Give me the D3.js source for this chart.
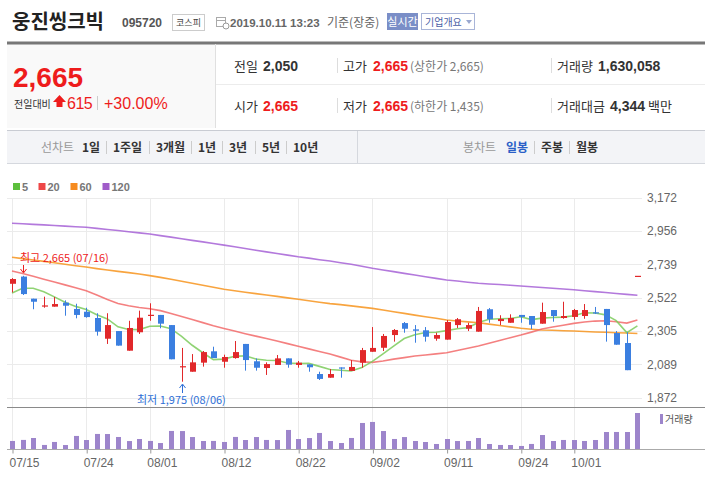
<!DOCTYPE html>
<html><head><meta charset="utf-8">
<script src="https://cdn.jsdelivr.net/npm/d3@7"></script>
<style>
html,body{margin:0;padding:0;background:#fff;}
svg{display:block;font-family:"Liberation Sans",Arial,"Noto Sans CJK KR",sans-serif;}
</style></head><body>
<script>
// ---------- data ----------
const dates = ["07/15","07/16","07/17","07/18","07/19","07/22","07/23","07/24","07/25","07/26","07/29","07/30","07/31",
"08/01","08/02","08/05","08/06","08/07","08/08","08/09","08/12","08/13","08/14","08/16","08/19","08/20","08/21","08/22","08/23","08/26","08/27","08/28","08/29","08/30",
"09/02","09/03","09/04","09/05","09/06","09/09","09/10","09/11","09/16","09/17","09/18","09/19","09/20","09/23","09/24","09/25","09/26","09/27","09/30",
"10/01","10/02","10/04","10/07","10/08","10/10","10/11"];
const tickDates = ["07/15","07/24","08/01","08/12","08/22","09/02","09/11","09/24","10/01"];
const opens  = [2613,2660,2516,2468,2464,2490,2449,2431,2390,2255,2305,2177,2297,2407,2410,2344,2072,2040,2099,2173,2105,2129,2221,2108,2064,2084,2127,2084,2088,2025,2001,2068,2045,2099,2170,2196,2279,2357,2316,2310,2255,2249,2344,2320,2301,2447,2370,2359,2410,2403,2353,2442,2390,2397,2403,2427,2449,2292,2227,2665];
const closes = [2644,2546,2496,2472,2481,2470,2410,2396,2301,2344,2210,2325,2392,2411,2353,2121,2076,2101,2168,2129,2136,2168,2116,2066,2090,2127,2086,2099,2069,1993,2025,2064,2071,2181,2195,2273,2312,2320,2307,2268,2279,2364,2382,2344,2436,2382,2384,2390,2397,2346,2429,2403,2403,2442,2442,2421,2344,2216,2050,2665];
const highs  = [2650,2665,2516,2529,2527,2505,2483,2457,2421,2421,2305,2372,2438,2486,2410,2344,2195,2155,2175,2203,2151,2240,2221,2127,2101,2149,2127,2110,2088,2040,2058,2068,2116,2195,2331,2286,2318,2364,2344,2331,2294,2377,2390,2359,2462,2455,2408,2414,2410,2403,2490,2442,2496,2449,2481,2462,2449,2305,2297,2665];
const lows   = [2557,2540,2447,2457,2464,2405,2388,2392,2275,2221,2210,2177,2286,2372,2323,2121,1975,2040,2073,2129,2066,2125,2047,2047,2019,2084,2066,2066,2040,1986,2001,2001,2045,2066,2170,2175,2236,2294,2229,2236,2242,2249,2325,2305,2301,2359,2344,2359,2359,2318,2353,2366,2385,2379,2385,2416,2236,2216,2050,2665];
const volumes = [364210,411530,497880,183420,318760,179950,591300,406820,681450,677930,544120,359870,452610,364980,270440,817260,812930,541770,361340,365020,318250,546390,407110,541880,409760,405290,862140,451970,496350,726480,361220,270880,499410,1178340,1224670,813550,454080,540960,362710,316470,227350,452380,360840,363290,497520,226140,182630,180910,137420,228570,633890,361760,409330,406540,363050,407820,768910,771240,769580,1630058];
// closes of the 4 sessions before 07/15 (estimated from the 5-day line)
const priorCloses = [2391,2496,2587,2647];
const ma20 = [2696,2680,2662,2643,2625,2606,2587,2568,2540,2510,2485,2470,2458,2450,2438,2420,2400,2380,2360,2340,2322,2305,2288,2272,2257,2240,2223,2206,2189,2172,2155,2135,2115,2104,2101,2110,2122,2132,2142,2149,2156,2164,2178,2193,2208,2226,2244,2262,2279,2298,2318,2331,2343,2355,2364,2370,2372,2366,2357,2377];
const ma60 = [2786,2777,2768,2759,2750,2740,2731,2722,2712,2703,2694,2686,2677,2666,2655,2642,2629,2616,2603,2590,2577,2568,2558,2549,2540,2531,2521,2512,2502,2493,2484,2477,2469,2461,2453,2442,2431,2420,2409,2398,2388,2377,2371,2365,2359,2350,2341,2332,2323,2317,2312,2310,2307,2305,2302,2299,2297,2294,2292,2289];
const ma120 = [3007,3004,3000,2997,2993,2989,2985,2981,2974,2967,2960,2952,2945,2937,2927,2917,2906,2896,2886,2875,2865,2854,2843,2832,2821,2810,2800,2789,2780,2770,2761,2750,2740,2727,2714,2703,2692,2681,2670,2659,2648,2638,2631,2623,2616,2612,2608,2603,2599,2594,2589,2584,2579,2574,2568,2562,2556,2550,2544,2538];
const yTicks = [1872,2089,2305,2522,2739,2956,3172];
const legendItems = [{label:"5",color:"#5cbf3c"},{label:"20",color:"#ee4646"},{label:"60",color:"#f68b1f"},{label:"120",color:"#a05cc9"}];
const lineTabs = ["1일","1주일","3개월","1년","3년","5년","10년"];
const candleTabs = ["일봉","주봉","월봉"];

// ---------- setup ----------
const W=705,H=478;
const svg=d3.select("body").append("svg").attr("width",W).attr("height",H);
const KR='"Noto Sans CJK KR","Liberation Sans",sans-serif';
function t(x,y,s,o={}){
  const e=svg.append("text").attr("x",x).attr("y",y).text(s)
    .attr("font-size",o.size||12).attr("fill",o.fill||"#333");
  if(o.weight)e.attr("font-weight",o.weight);
  if(o.kr)e.attr("font-family",KR);
  if(o.anchor)e.attr("text-anchor",o.anchor);
  if(o.ls)e.attr("letter-spacing",o.ls);
  return e;
}
function line(x1,y1,x2,y2,c,w=1){svg.append("line").attr("x1",x1).attr("y1",y1).attr("x2",x2).attr("y2",y2).attr("stroke",c).attr("stroke-width",w);}

// ---------- header ----------
t(12,29,"웅진씽크빅",{size:20,weight:"bold",kr:true,fill:"#222"});
t(122,27,"095720",{size:12,weight:"bold",fill:"#555"});
svg.append("rect").attr("x",172.5).attr("y",14.5).attr("width",32).attr("height",16).attr("fill","#fff").attr("stroke","#ccc");
t(188.5,26,"코스피",{size:9,kr:true,anchor:"middle",fill:"#444"});
// calendar icon
svg.append("rect").attr("x",216.5).attr("y",17.5).attr("width",9).attr("height",9).attr("fill","none").attr("stroke","#aaa");
line(216.5,20.5,225.5,20.5,"#aaa");
svg.append("circle").attr("cx",226).attr("cy",26).attr("r",3).attr("fill","#fff").attr("stroke","#999");
t(230,27,"2019.10.11 13:23",{size:11.5,weight:"bold",fill:"#666"});
t(327,27,"기준(장중)",{size:12,kr:true,fill:"#666"});
svg.append("rect").attr("x",387).attr("y",13).attr("width",31).attr("height",17).attr("fill","#7a8ec7");
t(402.5,26,"실시간",{size:11,kr:true,anchor:"middle",fill:"#fff"});
svg.append("rect").attr("x",421.5).attr("y",13.5).attr("width",53).attr("height",16).attr("fill","#fff").attr("stroke","#a9b5d8");
t(425,26,"기업개요",{size:10,kr:true,fill:"#4b5ea6"});
svg.append("path").attr("d","M466,20 L472,20 L469,24 Z").attr("fill","#9aa8cf");

// ---------- info box ----------
svg.append("rect").attr("x",7).attr("y",44).attr("width",209).attr("height",84).attr("fill","#f9f9f9");
line(7,43,705,43,"#777",3);
line(215.5,44,215.5,128,"#e0e0e0");
line(216,84.5,705,84.5,"#ececec");
t(13,87,"2,665",{size:28,weight:"bold",fill:"#ee1c1c"});
t(14,108,"전일대비",{size:10,kr:true,fill:"#333"});
svg.append("path").attr("d","M53,102 L59.5,95 L66,102 L62.5,102 L62.5,107 L56.5,107 L56.5,102 Z").attr("fill","#ee1c1c");
t(67,109,"615",{size:16,fill:"#ee1c1c",ls:-0.5});
line(97.5,96,97.5,110,"#ccc");
t(104,109,"+30.00%",{size:16,fill:"#ee1c1c"});
const rowY=[71,111];
t(234,rowY[0],"전일",{size:13,kr:true,fill:"#333"});
t(263,rowY[0],"2,050",{size:14,weight:"bold",fill:"#333"});
t(234,rowY[1],"시가",{size:13,kr:true,fill:"#333"});
t(263,rowY[1],"2,665",{size:14,weight:"bold",fill:"#ee1c1c"});
line(337.5,58,337.5,73,"#ddd");line(337.5,98,337.5,113,"#ddd");
t(343,rowY[0],"고가",{size:13,kr:true,fill:"#333"});
t(373,rowY[0],"2,665",{size:14,weight:"bold",fill:"#ee1c1c"});
t(410,rowY[0],"(상한가 2,665)",{size:12,kr:true,fill:"#777"});
t(343,rowY[1],"저가",{size:13,kr:true,fill:"#333"});
t(373,rowY[1],"2,665",{size:14,weight:"bold",fill:"#ee1c1c"});
t(410,rowY[1],"(하한가 1,435)",{size:12,kr:true,fill:"#777"});
line(551.5,58,551.5,73,"#ddd");line(551.5,98,551.5,113,"#ddd");
t(557,rowY[0],"거래량",{size:13,kr:true,fill:"#333"});
t(598,rowY[0],"1,630,058",{size:14,weight:"bold",fill:"#333"});
t(557,rowY[1],"거래대금",{size:13,kr:true,fill:"#333"});
t(610,rowY[1],"4,344",{size:14,weight:"bold",fill:"#333"});
t(648,rowY[1],"백만",{size:13,kr:true,fill:"#333"});

// ---------- tab bar ----------
svg.append("rect").attr("x",7).attr("y",130).attr("width",698).attr("height",34).attr("fill","#f3f4f7");
line(7,130.5,705,130.5,"#c9ccd3");line(7,163.5,705,163.5,"#d5d8de");
line(357.5,131,357.5,163,"#d5d8de");
const tabY=152;
t(41,tabY,"선차트",{size:12,kr:true,fill:"#999"});
const lineTabX=[82,113,156,198,229,262,293];
lineTabs.forEach((s,i)=>{
  t(lineTabX[i],tabY,s,{size:12,kr:true,fill:"#333",weight:"bold"});
  if(i>0) line(lineTabX[i]-6.5,141,lineTabX[i]-6.5,154,"#ccc");
});
t(463,tabY,"봉차트",{size:12,kr:true,fill:"#999"});
const candleTabX=[506,541,576];
candleTabs.forEach((s,i)=>{
  t(candleTabX[i],tabY,s,{size:12,kr:true,fill:i===0?"#2a5fc7":"#333",weight:"bold"});
  if(i>0) line(candleTabX[i]-6.5,141,candleTabX[i]-6.5,154,"#ccc");
});

// ---------- legend ----------
let lx=13;
legendItems.forEach(d=>{
  svg.append("rect").attr("x",lx).attr("y",183).attr("width",7).attr("height",7).attr("fill",d.color);
  t(lx+9,191,d.label,{size:11,weight:"bold",fill:"#777"});
  lx+= 9 + d.label.length*6.5 + 10;
});

// ---------- scales ----------
const x=d3.scaleLinear().domain([0,dates.length-1]).range([12,637.4]);
const y=d3.scaleLinear().domain([1872,3172]).range([397.5,198]);
const yv=d3.scaleLinear().domain([0,d3.max(volumes)]).range([449,413]);
const tickIdx=tickDates.map(d=>dates.indexOf(d));

// grid
const g=svg.append("g");
yTicks.forEach(v=>{const yy=Math.round(y(v))+0.5; g.append("line").attr("x1",7).attr("x2",642).attr("y1",yy).attr("y2",yy).attr("stroke","#ebebeb");});
tickIdx.forEach(i=>{const xx=Math.round(x(i))+0.5;
  g.append("line").attr("x1",xx).attr("x2",xx).attr("y1",198).attr("y2",407).attr("stroke","#ebebeb");
  g.append("line").attr("x1",xx).attr("x2",xx).attr("y1",408).attr("y2",449).attr("stroke","#ebebeb");
});
// right axis
const ax=svg.append("g").attr("transform","translate(642,0)").call(d3.axisRight(y).tickValues(yTicks).tickSize(0).tickPadding(5).tickFormat(d3.format(",")));
ax.select(".domain").remove();
ax.selectAll("text").attr("font-size",12).attr("fill","#666").attr("font-family",'"Liberation Sans",Arial,sans-serif');

// ---------- moving averages ----------
const allCloses=priorCloses.concat(closes);
const ma5=closes.map((c,i)=>d3.mean(allCloses.slice(i,i+5)));
const lineGen=d3.line().x((d,i)=>x(i)).y(d=>y(d)).curve(d3.curveLinear);
[[ma120,"#a662d6"],[ma60,"#f7941d"],[ma20,"#f26a6a"],[ma5,"#7ccb5c"]].forEach(([arr,c])=>{
  svg.append("path").datum(arr).attr("d",lineGen).attr("fill","none").attr("stroke",c).attr("stroke-width",1.6).attr("stroke-opacity",0.85);
});

// ---------- candles ----------
const up="#e1282a",down="#3b7fe0";
const cg=svg.append("g");
closes.forEach((c,i)=>{
  const o=opens[i],col=c>=o?up:down;const xc=Math.round(x(i));
  cg.append("line").attr("x1",xc+0.5).attr("x2",xc+0.5).attr("y1",y(highs[i])).attr("y2",y(lows[i])).attr("stroke",col);
  const top=y(Math.max(o,c)),bot=y(Math.min(o,c));
  cg.append("rect").attr("x",xc-2).attr("width",6).attr("y",top).attr("height",Math.max(1.2,bot-top)).attr("fill",col);
});

// high / low annotations
const hiI=highs.indexOf(d3.max(highs.slice(0,-1))), loI=lows.indexOf(d3.min(lows));
t(20,262,"최고 2,665 (07/16)",{size:11,kr:true,fill:"#ee1c1c"});
const hx=Math.round(x(hiI))+0.5;
line(hx,265,hx,272,"#ee1c1c");
svg.append("path").attr("d",`M${hx-3},269 L${hx},273 L${hx+3},269`).attr("fill","none").attr("stroke","#ee1c1c");
t(137,404,"최저 1,975 (08/06)",{size:11,kr:true,fill:"#2f6fd6"});
const lxp=Math.round(x(loI))+0.5;
line(lxp,385,lxp,393,"#2f6fd6");
svg.append("path").attr("d",`M${lxp-3},388 L${lxp},384 L${lxp+3},388`).attr("fill","none").attr("stroke","#2f6fd6");

// panel separator
line(7,407.5,705,407.5,"#8a8a8a");

// ---------- volume ----------
volumes.forEach((v,i)=>{
  const xc=Math.round(x(i));
  svg.append("rect").attr("x",xc-2).attr("width",5).attr("y",yv(v)).attr("height",449-yv(v)).attr("fill","#9d85cb");
});
line(7,449.5,705,449.5,"#aaa");
const xa=svg.append("g").attr("transform","translate(0,449.5)")
  .call(d3.axisBottom(x).tickValues(tickIdx).tickSize(4).tickFormat(i=>dates[i]));
xa.select(".domain").remove();
xa.selectAll("line").attr("stroke","#999").attr("transform","translate(0.5,0)");
xa.selectAll("text").attr("text-anchor","start").attr("dx",-3).attr("dy","0.9em").attr("font-size",12).attr("fill","#666").attr("font-family",'"Liberation Sans",Arial,sans-serif');
svg.append("rect").attr("x",660).attr("y",414).attr("width",3).attr("height",10).attr("fill","#9d85cb");
t(665,423,"거래량",{size:10,kr:true,fill:"#555"});
</script>
</body></html>
